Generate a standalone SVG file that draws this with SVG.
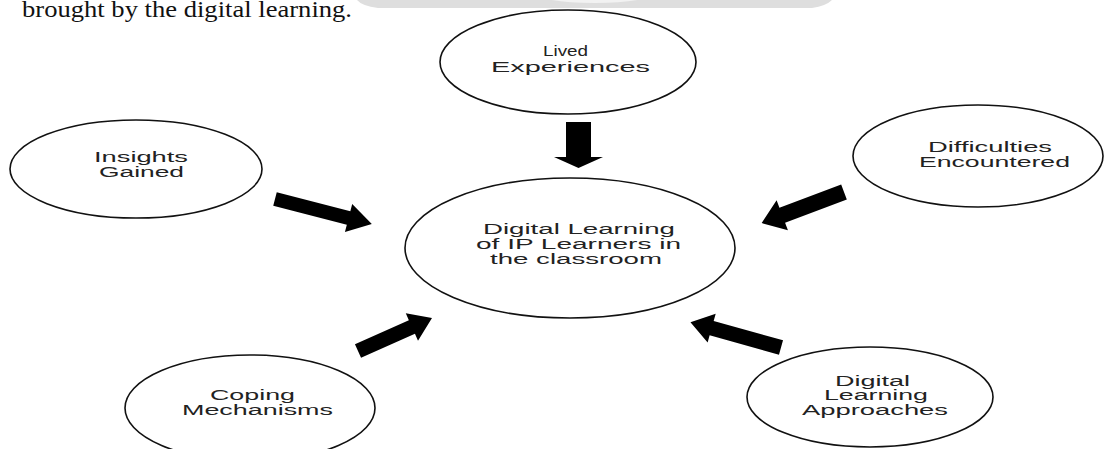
<svg xmlns="http://www.w3.org/2000/svg" width="1104" height="449" viewBox="0 0 1104 449">
  <defs>
    <style>
      .node { fill: #ffffff; stroke: #111111; stroke-width: 1.6; }
      .lbl { font-family: "Liberation Sans", Arial, sans-serif; font-size: 14px; fill: #222222; text-anchor: start; }
      .arrow { fill: #000000; stroke: none; }
      .body { font-family: "Liberation Serif", "Times New Roman", serif; font-size: 23px; fill: #111111; }
    </style>
  </defs>
  <rect width="1104" height="449" fill="#ffffff"/>

  <!-- page header band -->
  <path d="M357 0 L832 0 Q826 6 812 8 L378 8 Q362 6 357 0 Z" fill="#dedede"/>
  <path d="M552 0 L637 0 Q620 3 595 3 Q568 3 552 0 Z" fill="#f2f2f2"/>

  <!-- running text -->
  <text class="body" x="22" y="17" textLength="330" lengthAdjust="spacingAndGlyphs">brought by the digital learning.</text>

  <!-- connectors: block arrows (tail at origin, pointing along +x) -->
  <g id="connectors">
    <polygon class="arrow" transform="translate(578.5,122) rotate(90)" points="0,-12.5 35,-12.5 35,-24.5 46,0 35,24.5 35,12.5 0,12.5"/>
    <polygon class="arrow" transform="translate(275,199) rotate(14.5)" points="0,-7 76,-7 76,-14.5 100,0 76,14.5 76,7 0,7"/>
    <polygon class="arrow" transform="translate(844,192) rotate(159.3)" points="0,-8 66,-8 66,-16 88,0 66,16 66,8 0,8"/>
    <polygon class="arrow" transform="translate(358,351) rotate(-24)" points="0,-7.5 59,-7.5 59,-15 81,0 59,15 59,7.5 0,7.5"/>
    <polygon class="arrow" transform="translate(781,347.5) rotate(195.6)" points="0,-7.5 72,-7.5 72,-15 94,0 72,15 72,7.5 0,7.5"/>
  </g>

  <!-- central node -->
  <g id="node-center">
    <ellipse class="node" cx="570" cy="248" rx="165" ry="70"/>
    <text class="lbl" x="483" y="234" textLength="192" lengthAdjust="spacingAndGlyphs">Digital Learning</text>
    <text class="lbl" x="476" y="249" textLength="205" lengthAdjust="spacingAndGlyphs">of IP Learners in</text>
    <text class="lbl" x="490" y="264" textLength="172" lengthAdjust="spacingAndGlyphs">the classroom</text>
  </g>

  <g id="node-lived">
    <ellipse class="node" cx="568" cy="62" rx="128" ry="52"/>
    <text class="lbl" x="543" y="56" textLength="45" lengthAdjust="spacingAndGlyphs">Lived</text>
    <text class="lbl" x="491" y="72" textLength="159" lengthAdjust="spacingAndGlyphs">Experiences</text>
  </g>

  <g id="node-insights">
    <ellipse class="node" cx="136" cy="169" rx="126" ry="49"/>
    <text class="lbl" x="94" y="162" textLength="94" lengthAdjust="spacingAndGlyphs">Insights</text>
    <text class="lbl" x="99" y="177" textLength="85" lengthAdjust="spacingAndGlyphs">Gained</text>
  </g>

  <g id="node-difficulties">
    <ellipse class="node" cx="978" cy="156" rx="125" ry="51"/>
    <text class="lbl" x="928" y="152" textLength="124" lengthAdjust="spacingAndGlyphs">Difficulties</text>
    <text class="lbl" x="919" y="167" textLength="151" lengthAdjust="spacingAndGlyphs">Encountered</text>
  </g>

  <g id="node-coping">
    <ellipse class="node" cx="250" cy="408" rx="125" ry="53"/>
    <text class="lbl" x="210" y="400" textLength="85" lengthAdjust="spacingAndGlyphs">Coping</text>
    <text class="lbl" x="182" y="415" textLength="151" lengthAdjust="spacingAndGlyphs">Mechanisms</text>
  </g>

  <g id="node-approaches">
    <ellipse class="node" cx="870" cy="397" rx="123" ry="50"/>
    <text class="lbl" x="835" y="386" textLength="75" lengthAdjust="spacingAndGlyphs">Digital</text>
    <text class="lbl" x="824" y="400" textLength="104" lengthAdjust="spacingAndGlyphs">Learning</text>
    <text class="lbl" x="802" y="415" textLength="146" lengthAdjust="spacingAndGlyphs">Approaches</text>
  </g>
</svg>
